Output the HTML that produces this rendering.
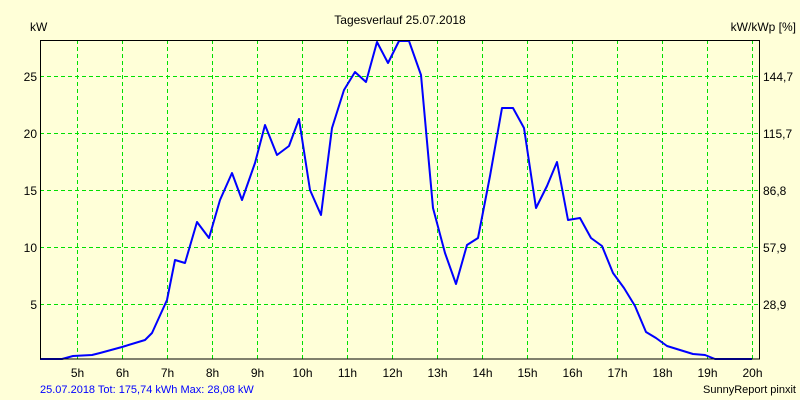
<!DOCTYPE html>
<html><head><style>
html,body{margin:0;padding:0;background:#ffffd8;}
svg{display:block}
text{font-family:"Liberation Sans",sans-serif;font-size:12px;fill:#000}
</style></head><body>
<svg width="800" height="400" xmlns="http://www.w3.org/2000/svg">
<rect width="800" height="400" fill="#ffffd8"/>
<g stroke="#00e000" stroke-width="1" stroke-dasharray="4,3">
<line x1="77.5" y1="40" x2="77.5" y2="359"/>
<line x1="122.5" y1="40" x2="122.5" y2="359"/>
<line x1="167.5" y1="40" x2="167.5" y2="359"/>
<line x1="212.5" y1="40" x2="212.5" y2="359"/>
<line x1="257.5" y1="40" x2="257.5" y2="359"/>
<line x1="302.5" y1="40" x2="302.5" y2="359"/>
<line x1="347.5" y1="40" x2="347.5" y2="359"/>
<line x1="392.5" y1="40" x2="392.5" y2="359"/>
<line x1="437.5" y1="40" x2="437.5" y2="359"/>
<line x1="482.5" y1="40" x2="482.5" y2="359"/>
<line x1="527.5" y1="40" x2="527.5" y2="359"/>
<line x1="572.5" y1="40" x2="572.5" y2="359"/>
<line x1="617.5" y1="40" x2="617.5" y2="359"/>
<line x1="662.5" y1="40" x2="662.5" y2="359"/>
<line x1="707.5" y1="40" x2="707.5" y2="359"/>
<line x1="752.5" y1="40" x2="752.5" y2="359"/>
<line x1="40" y1="76.5" x2="759" y2="76.5"/>
<line x1="40" y1="133.5" x2="759" y2="133.5"/>
<line x1="40" y1="190.5" x2="759" y2="190.5"/>
<line x1="40" y1="247.5" x2="759" y2="247.5"/>
<line x1="40" y1="304.5" x2="759" y2="304.5"/>
</g>
<polyline fill="none" stroke="#0000ff" stroke-width="2" stroke-linejoin="round" points="40,359 62,359 73,356 92,355 100,353 122,347 145,340 152,333 167,300 175,260 185,263 197,222 209,238 220,200 232,173 242,200 255,163 265,125 277,155 289,146 299,119 310,190 321,215 332,128 344,90 355,72 366,82 377,42 388,63 399,41 409,41 421,75 433,208 445,253 456,284 467,245 478,238 490,176 502,108 513,108 524,128 536,208 547,186 557,162 568,220 580,218 591,238 602,246 613,273 624,288 635,306 646,332 656,338 667,346 680,350 693,354 705,355 715,359 752,359"/>
<rect x="40.5" y="40.5" width="719" height="318.5" fill="none" stroke="#000" stroke-width="1"/>
<text x="400" y="24" text-anchor="middle">Tagesverlauf 25.07.2018</text>
<text x="30" y="31">kW</text>
<text x="796" y="31" text-anchor="end">kW/kWp [%]</text>
<g text-anchor="end">
<text x="37" y="81">25</text><text x="37" y="138">20</text><text x="37" y="195">15</text><text x="37" y="252">10</text><text x="37" y="309">5</text>
</g>
<text x="763" y="81">144,7</text><text x="763" y="138">115,7</text><text x="763" y="195">86,8</text><text x="763" y="252">57,9</text><text x="763" y="309">28,9</text>
<g text-anchor="middle">
<text x="77.5" y="377">5h</text><text x="122.5" y="377">6h</text><text x="167.5" y="377">7h</text><text x="212.5" y="377">8h</text><text x="257.5" y="377">9h</text><text x="302.5" y="377">10h</text><text x="347.5" y="377">11h</text><text x="392.5" y="377">12h</text><text x="437.5" y="377">13h</text><text x="482.5" y="377">14h</text><text x="527.5" y="377">15h</text><text x="572.5" y="377">16h</text><text x="617.5" y="377">17h</text><text x="662.5" y="377">18h</text><text x="707.5" y="377">19h</text><text x="752.5" y="377">20h</text>
</g>
<text x="40" y="393" style="fill:#0000ff;font-size:11px">25.07.2018 Tot: 175,74 kWh Max: 28,08 kW</text>
<text x="796" y="393" text-anchor="end" style="font-size:11px">SunnyReport pinxit</text>
</svg>
</body></html>
